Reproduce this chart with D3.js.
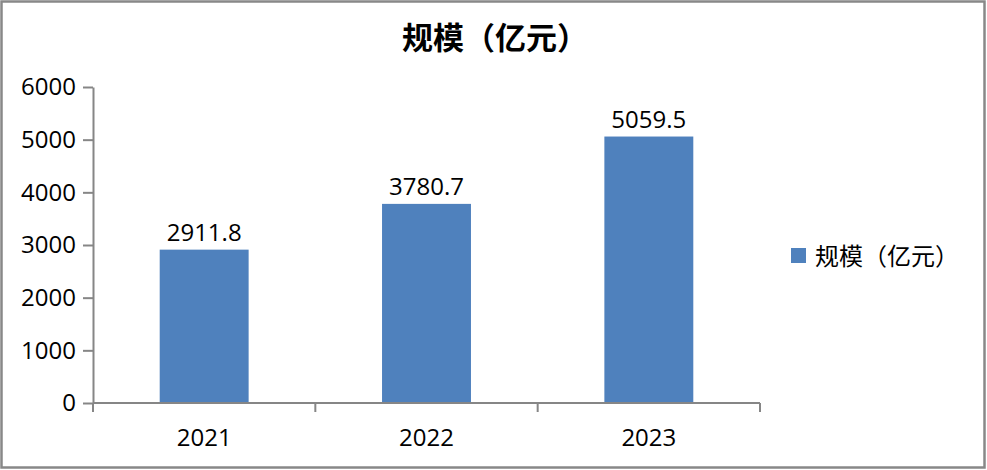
<!DOCTYPE html>
<html><head><meta charset="utf-8">
<script src="https://cdn.jsdelivr.net/npm/d3@7/dist/d3.min.js"></script>
<style>body{margin:0;background:#fff}svg{display:block}</style>
</head><body>
<svg id="c" width="987" height="470"></svg>
<script>
const categories = ["2021", "2022", "2023"];
const values = [2911.8, 3780.7, 5059.5];
const yTicks = [0, 1000, 2000, 3000, 4000, 5000, 6000];
const seriesName = "规模（亿元）";
const titleText = "规模（亿元）";

const svg = d3.select("#c");
const W = 987, H = 470;
const color = "#4F81BD";
const axisColor = "#868686";
const numFont = "'Open Sans', 'Noto Sans', sans-serif";
const cjkFont = "'Noto Sans CJK SC', sans-serif";

svg.append("rect").attr("x", 1.5).attr("y", 1.5).attr("width", W - 4).attr("height", H - 4)
  .attr("fill", "#fff").attr("stroke", "#888").attr("stroke-width", 2.5);

const m = {left: 93, right: 760, top: 87, bottom: 403};
const x = d3.scaleBand().domain(categories).range([m.left, m.right]).paddingInner(0.6).paddingOuter(0.3);
const y = d3.scaleLinear().domain([0, 6000]).range([m.bottom, m.top]);

// title
svg.append("text").attr("x", 495).attr("y", 49).attr("text-anchor", "middle")
  .attr("font-family", cjkFont).attr("font-weight", "bold").attr("font-size", 31)
  .attr("fill", "#000").text(titleText);

// y axis
const ya = svg.append("g").attr("transform", `translate(${m.left},0)`)
  .call(d3.axisLeft(y).tickValues(yTicks).tickFormat(d3.format("d")).tickSize(10).tickPadding(7).tickSizeOuter(0));
ya.select(".domain").attr("stroke", axisColor).attr("stroke-width", 2);
ya.selectAll(".tick line").attr("stroke", axisColor).attr("stroke-width", 2);
ya.selectAll(".tick text").attr("font-family", numFont).attr("font-size", 24).attr("fill", "#000");

// bars
svg.selectAll("rect.bar").data(values).enter().append("rect").attr("class", "bar")
  .attr("x", (d, i) => x(categories[i]))
  .attr("width", x.bandwidth())
  .attr("y", d => y(d))
  .attr("height", d => y(0) - y(d))
  .attr("fill", color);

// data labels
svg.selectAll("text.lbl").data(values).enter().append("text").attr("class", "lbl")
  .attr("x", (d, i) => x(categories[i]) + x.bandwidth() / 2)
  .attr("y", d => y(d) - 9)
  .attr("text-anchor", "middle").attr("font-family", numFont).attr("font-size", 24)
  .attr("fill", "#000").text(d => d.toFixed(1));

// x axis
const step = (m.right - m.left) / categories.length;
const xa = svg.append("g");
xa.append("line").attr("x1", m.left).attr("x2", m.right).attr("y1", y(0)).attr("y2", y(0))
  .attr("stroke", axisColor).attr("stroke-width", 2);
d3.range(categories.length + 1).forEach(i => {
  xa.append("line").attr("x1", m.left + i * step).attr("x2", m.left + i * step)
    .attr("y1", y(0)).attr("y2", y(0) + 9).attr("stroke", axisColor).attr("stroke-width", 2);
});
xa.selectAll("text").data(categories).enter().append("text")
  .attr("x", d => x(d) + x.bandwidth() / 2).attr("y", y(0) + 43)
  .attr("text-anchor", "middle").attr("font-family", numFont).attr("font-size", 24)
  .attr("fill", "#000").text(d => d);

// legend
const lg = svg.append("g").attr("transform", "translate(791,248)");
lg.append("rect").attr("width", 15).attr("height", 15).attr("fill", color);
lg.append("text").attr("x", 24).attr("y", 17).attr("font-family", cjkFont).attr("font-size", 24)
  .attr("fill", "#000").text(seriesName);
</script>
</body></html>
